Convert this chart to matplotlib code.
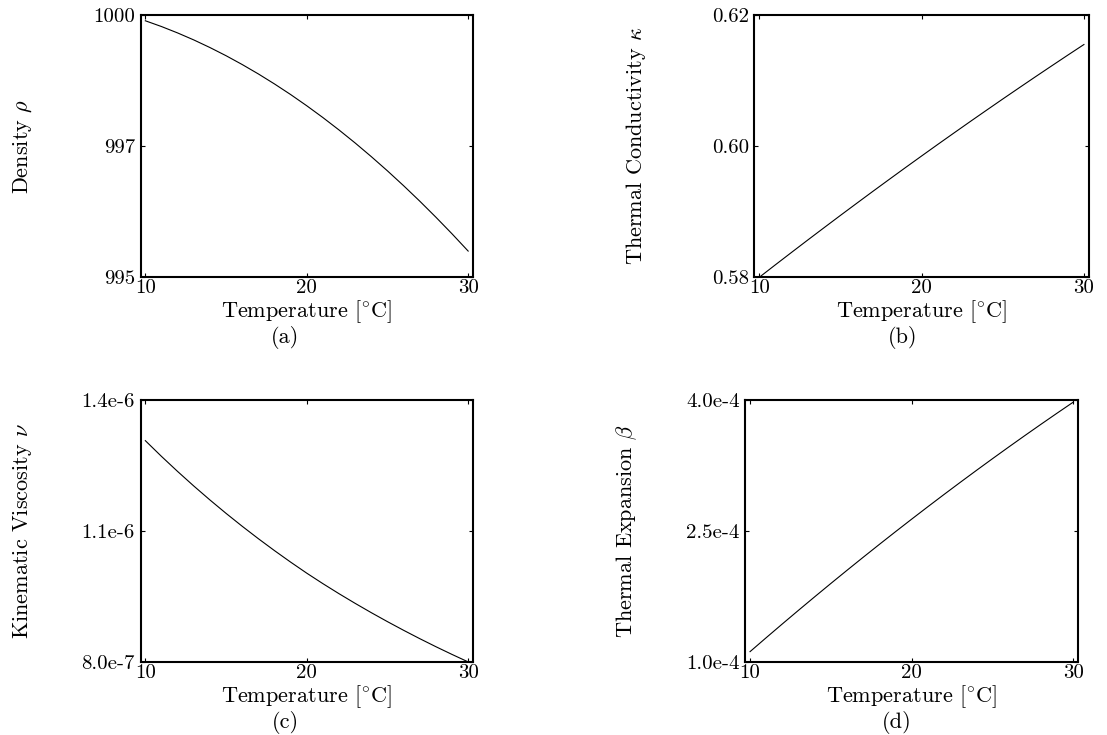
import matplotlib
matplotlib.use("Agg")
import matplotlib.pyplot as plt

plt.rcParams["font.family"] = "cmr10"
plt.rcParams["mathtext.fontset"] = "cm"
plt.rcParams["axes.unicode_minus"] = False
plt.rcParams["axes.formatter.use_mathtext"] = True

# Water properties versus temperature, sampled every 1 degree C
temperature = [10, 11, 12, 13, 14, 15, 16, 17, 18, 19, 20,
               21, 22, 23, 24, 25, 26, 27, 28, 29, 30]
density = [999.890, 999.780, 999.658, 999.525, 999.380, 999.224, 999.056,
           998.877, 998.686, 998.484, 998.270, 998.045, 997.808, 997.560,
           997.300, 997.029, 996.746, 996.452, 996.146, 995.829, 995.500]
conductivity = [0.58000, 0.58192, 0.58382, 0.58571, 0.58758, 0.58944, 0.59128,
                0.59311, 0.59492, 0.59672, 0.59850, 0.60027, 0.60202, 0.60376,
                0.60548, 0.60719, 0.60888, 0.61056, 0.61222, 0.61387, 0.61550]
viscosity = [1.3070e-6, 1.2710e-6, 1.2365e-6, 1.2033e-6, 1.1714e-6, 1.1407e-6,
             1.1112e-6, 1.0828e-6, 1.0555e-6, 1.0292e-6, 1.0039e-6, 0.9799e-6,
             0.9569e-6, 0.9348e-6, 0.9135e-6, 0.8930e-6, 0.8732e-6, 0.8541e-6,
             0.8357e-6, 0.8180e-6, 0.8009e-6]
expansion = [1.1220e-4, 1.2816e-4, 1.4394e-4, 1.5954e-4, 1.7496e-4, 1.9021e-4,
             2.0528e-4, 2.2018e-4, 2.3490e-4, 2.4944e-4, 2.6380e-4, 2.7799e-4,
             2.9200e-4, 3.0583e-4, 3.1948e-4, 3.3296e-4, 3.4626e-4, 3.5939e-4,
             3.7234e-4, 3.8511e-4, 3.9770e-4]

x_ticks = [10, 20, 30]
x_label = r"Temperature $[{}^{\circ}\mathrm{C}]$"

density_ticks = [995, 997.5, 1000]
density_ticklabels = ["995", "997", "1000"]
conductivity_ticks = [0.58, 0.60, 0.62]
conductivity_ticklabels = ["0.58", "0.60", "0.62"]
viscosity_ticks = [8.0e-7, 1.1e-6, 1.4e-6]
viscosity_ticklabels = ["8.0e-7", "1.1e-6", "1.4e-6"]
expansion_ticks = [1.0e-4, 2.5e-4, 4.0e-4]
expansion_ticklabels = ["1.0e-4", "2.5e-4", "4.0e-4"]

W, H = 1107, 735
fig = plt.figure(figsize=(W / 100, H / 100), dpi=100)


def px_axes(left, top, width, height):
    return fig.add_axes([left / W, 1 - (top + height) / H, width / W, height / H])


panels = [
    # (left, top, width, height), y data, ticks, tick labels, y label, ylabel x, tag, tag offset
    ((140.5, 15, 332.5, 262.3), density, density_ticks, density_ticklabels,
     r"Density $\rho$", 23, "(a)", -22),
    ((754.4, 15, 334.4, 262.3), conductivity, conductivity_ticks, conductivity_ticklabels,
     r"Thermal Conductivity $\kappa$", 636, "(b)", -19),
    ((140.5, 400, 332.5, 262.3), viscosity, viscosity_ticks, viscosity_ticklabels,
     r"Kinematic Viscosity $\nu$", 23, "(c)", -21),
    ((745.2, 400, 333.1, 262.3), expansion, expansion_ticks, expansion_ticklabels,
     r"Thermal Expansion $\beta$", 627, "(d)", -15),
]

tick_fs = 15
label_fs = 16
for (rect, ydata, yt, ytl, ylab, ylab_x, tag, tag_dx) in panels:
    left, top, width, height = rect
    ax = px_axes(left, top, width, height)
    ax.plot(temperature, ydata, color="black", linewidth=0.8)
    ax.set_xlim(9.7, 30.3)
    ax.set_ylim(yt[0], yt[-1])
    ax.set_xticks(x_ticks)
    ax.set_xticklabels([str(t) for t in x_ticks])
    ax.set_yticks(yt)
    ax.set_yticklabels(ytl)
    ax.tick_params(direction="in", length=3, width=0.8, top=True, right=True,
                   labelsize=tick_fs, color="black")
    ax.tick_params(axis="x", pad=1.5)
    ax.tick_params(axis="y", pad=4)
    for sp in ax.spines.values():
        sp.set_linewidth(1.5)
        sp.set_color("black")

    # x label centred below the axes, panel tag beneath it
    ax.set_xlabel(x_label, fontsize=label_fs, va="center")
    ax.xaxis.set_label_coords(0.5, -34 / height)
    cx = left + width / 2
    fig.text((cx + tag_dx) / W, 1 - (top + height + 60) / H, tag,
             fontsize=label_fs, ha="center", va="center")

    # y label at a fixed horizontal position, centred on the axes
    ax.set_ylabel(ylab, fontsize=label_fs, va="center")
    ax.yaxis.set_label_coords((ylab_x - left) / width, 0.5)

fig.savefig("out.png", dpi=100)
